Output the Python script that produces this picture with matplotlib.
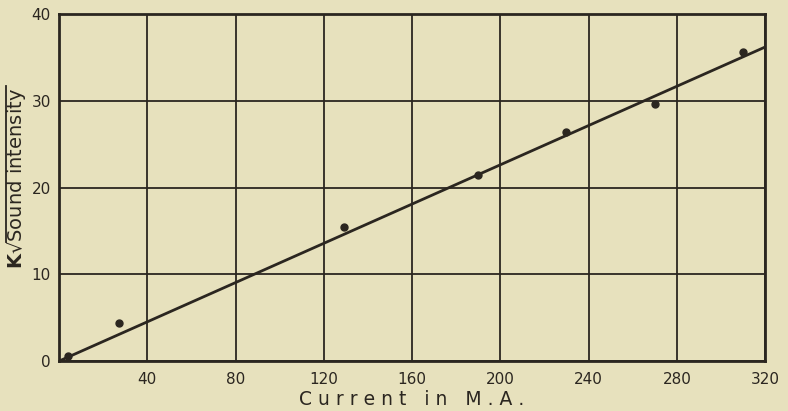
import numpy as np
import matplotlib.pyplot as plt
from matplotlib.lines import Line2D

# readings
current = [4, 27, 129, 190, 230, 270, 310]
intensity = [0.6, 4.4, 15.4, 21.4, 26.4, 29.6, 35.6]

# fitted straight line
line_x = [1, 320]
line_y = [0.1, 36.2]

xticks = [40, 80, 120, 160, 200, 240, 280, 320]
yticks = [0, 10, 20, 30, 40]

bg = '#e7e1bd'
ink = '#2b2620'

fig = plt.figure(figsize=(7.88, 4.11), dpi=100, facecolor=bg)
ax = fig.add_axes([0.0749, 0.1217, 0.896, 0.844])
ax.set_facecolor(bg)

ax.plot(line_x, line_y, color=ink, linewidth=2.0, zorder=3)
ax.plot(current, intensity, 'o', color=ink, markersize=5, zorder=4)

ax.set_xlim(0, 320)
ax.set_ylim(0, 40)
ax.set_xticks(xticks)
ax.set_yticks(yticks)
ax.grid(True, color=ink, linewidth=1.3)
ax.set_axisbelow(True)
for s in ax.spines.values():
    s.set_color(ink)
    s.set_linewidth(2.0)
ax.tick_params(length=0, labelsize=11, colors=ink, pad=8)
ax.tick_params(axis='y', pad=6)

ax.set_xlabel('C u r r e n t   i n   M . A .', fontsize=13.5, color=ink, labelpad=2)

# y label: K √ with an overbar drawn by hand
ylab = fig.text(0.021, 0.565, r'$\mathbf{K}$√Sound intensity', rotation=90,
                fontsize=14, color=ink, ha='center', va='center')
fig.canvas.draw()
r = fig.canvas.get_renderer()
bb = ylab.get_window_extent(r)
tmp = fig.text(0, 0, r'$\mathbf{K}$√', fontsize=14)
w = tmp.get_window_extent(r).width
tmp.remove()
W, H = fig.bbox.width, fig.bbox.height
fig.add_artist(Line2D([(bb.x0 + 1) / W] * 2, [(bb.y0 + w - 2) / H, (bb.y1 + 2) / H],
                      color=ink, linewidth=1.3, transform=fig.transFigure))

fig.savefig('out.png', dpi=100, facecolor=bg)
